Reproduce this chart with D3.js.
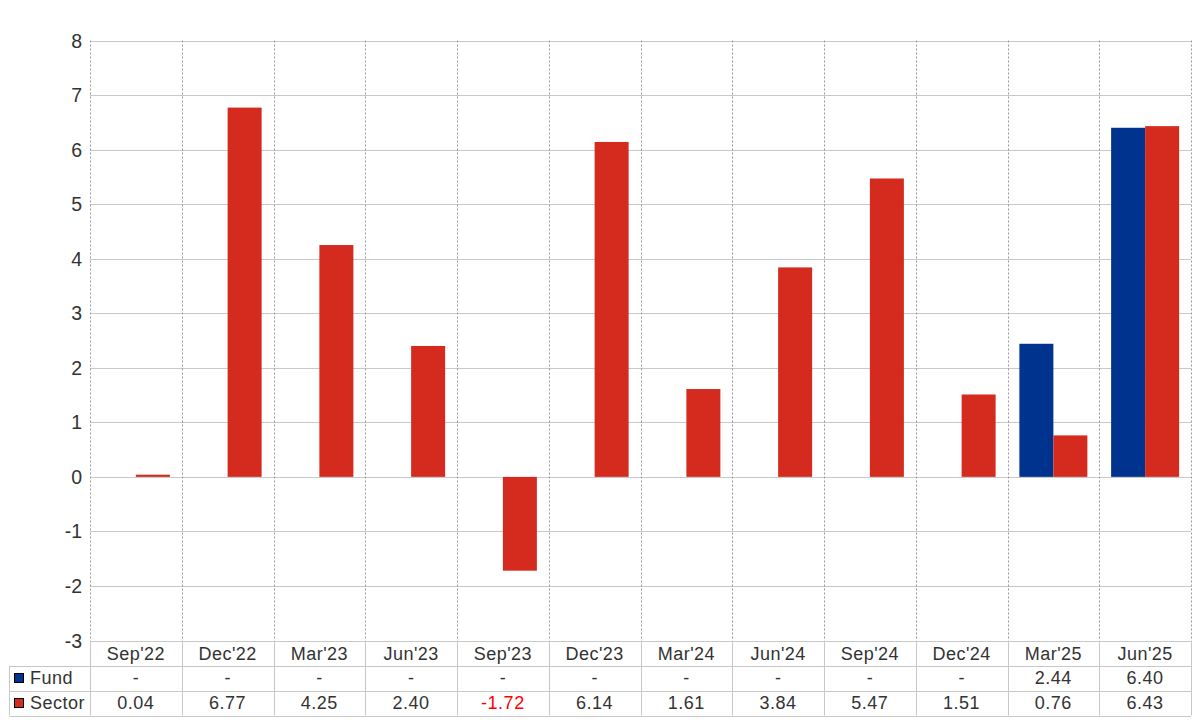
<!DOCTYPE html>
<html><head><meta charset="utf-8">
<script src="https://cdn.jsdelivr.net/npm/d3@7"></script>
<style>
html,body{margin:0;padding:0;background:#fff;}
svg{display:block;font-family:"Liberation Sans",Arial,sans-serif;}
</style></head>
<body>
<svg id="chart" width="1200" height="720"></svg>
<script>
const categories = ["Sep'22","Dec'22","Mar'23","Jun'23","Sep'23","Dec'23","Mar'24","Jun'24","Sep'24","Dec'24","Mar'25","Jun'25"];
const fundValues = [null,null,null,null,null,null,null,null,null,null,2.44,6.40];
const sectorValues = [0.04,6.77,4.25,2.40,-1.72,6.14,1.61,3.84,5.47,1.51,0.76,6.43];
const seriesNames = ["Fund","Sector"];
const seriesColors = ["#00338d","#d52b1e"];
const yTicks = [-3,-2,-1,0,1,2,3,4,5,6,7,8];

(function(){
const svg = d3.select("#chart");
const pLeft = 90, pRight = 1191, pTop = 40.5, pBottom = 640.5;
const x = d3.scaleBand().domain(categories).range([pLeft, pRight]).padding(0);
const y = d3.scaleLinear().domain([-3, 8]).range([pBottom, pTop]);
const gridColor = "#c8c8c8";
const textColor = "#333";

// horizontal grid
svg.append("g").selectAll("line").data(yTicks).join("line")
  .attr("x1", pLeft).attr("x2", pRight)
  .attr("y1", d => Math.round(y(d)) + 0.5).attr("y2", d => Math.round(y(d)) + 0.5)
  .attr("stroke", gridColor).attr("stroke-width", 1);

// vertical dotted grid (category boundaries)
const bounds = categories.map(c => x(c)).concat([pRight]);
svg.append("g").selectAll("line").data(bounds).join("line")
  .attr("x1", d => Math.round(d) + 0.5).attr("x2", d => Math.round(d) + 0.5)
  .attr("y1", pTop).attr("y2", pBottom)
  .attr("stroke", "#999").attr("stroke-width", 1).attr("stroke-dasharray", "2,2");

// y tick labels
svg.append("g").selectAll("text").data(yTicks).join("text")
  .attr("x", 82).attr("y", d => y(d)).attr("dy", "0.36em")
  .attr("text-anchor", "end").attr("font-size", 19.5).attr("fill", textColor)
  .text(d => d);

// bars
const barW = x.bandwidth() * 0.3706;
const series = [fundValues, sectorValues];
series.forEach((vals, si) => {
  svg.append("g").selectAll("rect")
    .data(categories.map((c, i) => ({c, v: vals[i]})).filter(d => d.v !== null))
    .join("rect")
    .attr("x", d => x(d.c) + x.bandwidth() / 2 + (si === 0 ? -barW : 0))
    .attr("width", barW)
    .attr("y", d => y(Math.max(0, d.v)))
    .attr("height", d => Math.abs(y(d.v) - y(0)))
    .attr("fill", seriesColors[si]);
});

// data table
const rowH = 25;
const headTop = pBottom, headBot = pBottom + rowH;
const tableBot = headBot + 2 * rowH;
const tbl = svg.append("g").attr("letter-spacing", "0.5px");
[headBot, headBot + rowH, tableBot].forEach(yy => {
  tbl.append("line").attr("x1", 9.5).attr("x2", pRight)
    .attr("y1", Math.round(yy) + 0.5).attr("y2", Math.round(yy) + 0.5)
    .attr("stroke", gridColor);
});
bounds.forEach(b => {
  tbl.append("line").attr("x1", Math.round(b) + 0.5).attr("x2", Math.round(b) + 0.5)
    .attr("y1", headTop).attr("y2", tableBot).attr("stroke", gridColor);
});
tbl.append("line").attr("x1", 9.5).attr("x2", 9.5)
  .attr("y1", headBot).attr("y2", tableBot).attr("stroke", gridColor);

tbl.selectAll("text.cat").data(categories).join("text").attr("class", "cat")
  .attr("x", d => x(d) + x.bandwidth() / 2).attr("y", headTop + rowH / 2 + 1).attr("dy", "0.36em")
  .attr("text-anchor", "middle").attr("font-size", 18).attr("fill", textColor)
  .text(d => d);

series.forEach((vals, si) => {
  const cy = headBot + rowH * si + rowH / 2;
  tbl.append("rect").attr("x", 14.5).attr("y", cy - 4.5).attr("width", 9).attr("height", 9)
    .attr("fill", seriesColors[si]).attr("stroke", "#000").attr("stroke-width", 1);
  tbl.append("text").attr("x", 30).attr("y", cy).attr("dy", "0.36em")
    .attr("font-size", 18).attr("fill", textColor).text(seriesNames[si]);
  tbl.append("g").selectAll("text").data(categories.map((c, i) => ({c, v: vals[i]}))).join("text")
    .attr("x", d => x(d.c) + x.bandwidth() / 2).attr("y", cy).attr("dy", "0.36em")
    .attr("text-anchor", "middle").attr("font-size", 18)
    .attr("fill", d => d.v !== null && d.v < 0 ? "#ff0000" : textColor)
    .text(d => d.v === null ? "-" : d.v.toFixed(2));
});
})();
</script>
</body></html>
